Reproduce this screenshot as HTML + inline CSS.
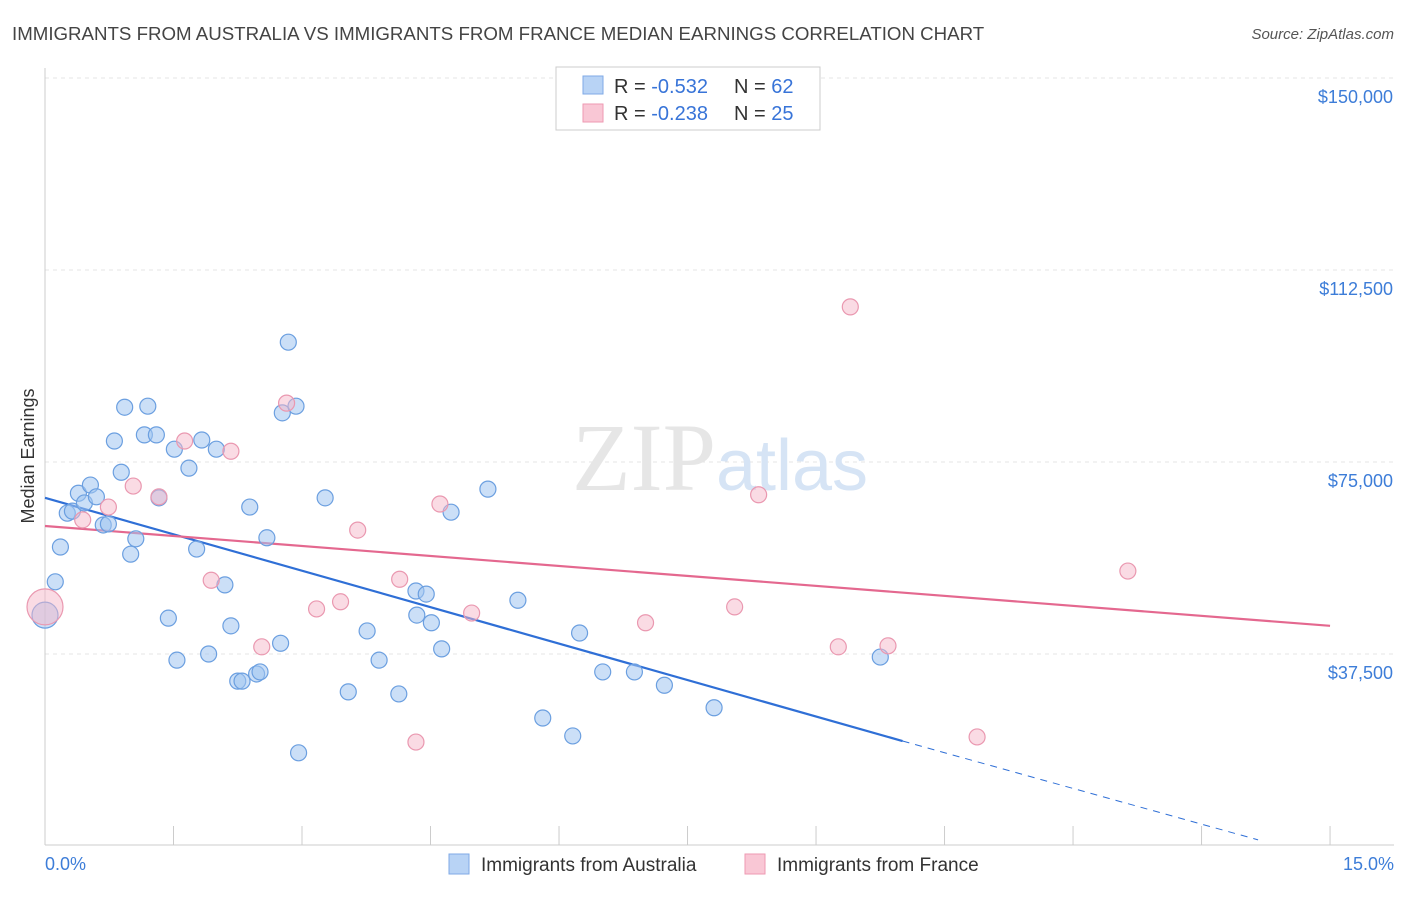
<!DOCTYPE html>
<html><head><meta charset="utf-8"><style>
body{margin:0;background:#fff;font-family:"Liberation Sans",sans-serif}
</style></head><body>
<svg id="chart" width="1406" height="892" xmlns="http://www.w3.org/2000/svg" font-family="Liberation Sans, sans-serif">
<text x="12" y="40" font-size="18.7" fill="#444">IMMIGRANTS FROM AUSTRALIA VS IMMIGRANTS FROM FRANCE MEDIAN EARNINGS CORRELATION CHART</text>
<text x="1394" y="39" font-size="15" fill="#555" text-anchor="end" font-style="italic">Source: ZipAtlas.com</text>
<g id="grid"></g>
<text x="720" y="490" font-size="96" text-anchor="middle" fill="#e6e6e6" font-family="Liberation Serif, serif">ZIP<tspan fill="#d6e4f5" font-family="Liberation Sans, sans-serif" font-size="72">atlas</tspan></text>
<text transform="translate(34,456) rotate(-90)" font-size="18" fill="#333" text-anchor="middle">Median Earnings</text>
<g id="lines"></g>
<g id="points"></g>
<g>
<rect x="556" y="67" width="264" height="63" fill="#fff" stroke="#ccc"/>
<rect x="583" y="76" width="20" height="18" fill="#b8d3f5" stroke="#7fa9e6"/>
<rect x="583" y="104" width="20" height="18" fill="#f9c7d5" stroke="#ee9ab2"/>
<text x="614" y="93" font-size="20" fill="#333">R = <tspan fill="#3874d8">-0.532</tspan></text>
<text x="734" y="93" font-size="20" fill="#333">N = <tspan fill="#3874d8">62</tspan></text>
<text x="614" y="120" font-size="20" fill="#333">R = <tspan fill="#3874d8">-0.238</tspan></text>
<text x="734" y="120" font-size="20" fill="#333">N = <tspan fill="#3874d8">25</tspan></text>
</g>
<text x="45" y="870" font-size="18" fill="#3d7dd8">0.0%</text>
<text x="1394" y="870" font-size="18" fill="#3d7dd8" text-anchor="end">15.0%</text>
<g>
<rect x="449" y="854" width="20" height="20" fill="#b8d3f5" stroke="#7fa9e6"/>
<text x="481" y="871" font-size="19" fill="#333">Immigrants from Australia</text>
<rect x="745" y="854" width="20" height="20" fill="#f9c7d5" stroke="#ee9ab2"/>
<text x="777" y="871" font-size="19" fill="#333">Immigrants from France</text>
</g>
</svg>
<script>
const yTicks=[37500,75000,112500,150000];
const yTickLabels=["$37,500","$75,000","$112,500","$150,000"];
const xTicks=[0,1.5,3,4.5,6,7.5,9,10.5,12,13.5,15];
const ausX=[0,.12,.18,.26,.32,.39,.46,.53,.60,.68,.74,.81,.89,.93,1.0,1.06,1.16,1.20,1.30,1.33,1.44,1.51,1.54,1.68,1.77,1.83,1.91,2.0,2.10,2.17,2.25,2.30,2.39,2.47,2.51,2.59,2.75,2.77,2.84,2.93,2.96,3.27,3.54,3.76,3.90,4.13,4.33,4.34,4.45,4.51,4.63,4.74,5.17,5.52,5.81,6.16,6.24,6.51,6.88,7.23,7.81,9.75];
const ausY=[45.1,51.6,58.4,65.0,65.4,68.9,67.0,70.5,68.2,62.7,62.9,79.1,73.0,85.7,57.0,60.0,80.3,85.9,80.3,68.0,44.5,77.5,36.3,73.8,58.0,79.3,37.5,77.5,51.0,43.0,32.2,32.2,66.2,33.6,34.0,60.2,39.6,84.6,98.4,85.9,18.2,68.0,30.1,42.0,36.3,29.7,49.8,45.1,49.2,43.6,38.5,65.2,69.7,48.0,25.0,21.5,41.6,34.0,34.0,31.4,27.0,36.9];
const frX=[0,.44,.74,1.03,1.33,1.63,1.94,2.17,2.53,2.82,3.17,3.45,3.65,4.14,4.33,4.61,4.98,7.01,8.05,8.33,9.26,9.40,9.84,10.88,12.64];
const frY=[46.7,63.7,66.2,70.3,68.2,79.1,51.9,77.1,38.9,86.5,46.3,47.7,61.7,52.1,20.3,66.8,45.5,43.6,46.7,68.6,38.9,105.3,39.1,21.3,53.7];
const ausTrend=[[0,68.0],[10.01,20.5]];
const ausTrendExt=[[10.01,20.5],[14.16,1.2]];
const frTrend=[[0,62.5],[15,43.0]];
const X=p=>45+p*85.67;
const Y=v=>846-v/37.5*192;
const NS="http://www.w3.org/2000/svg";
function mk(parent,tag,attrs){const e=document.createElementNS(NS,tag);for(const k in attrs)e.setAttribute(k,attrs[k]);document.getElementById(parent).appendChild(e);return e;}
yTicks.forEach((t,i)=>{
 const l=mk('grid','line',{x1:45,x2:1394,y1:Y(t/1000),y2:Y(t/1000),stroke:'#e4e4e4','stroke-dasharray':'4,4'});
 
 
 const tx=mk('grid','text',{x:1393,y:Y(t/1000)+25,'font-size':18,fill:'#3d7dd8','text-anchor':'end'});
 tx.textContent=yTickLabels[i];
 
 
});
const ax=mk('grid','line',{x1:45,x2:1394,y1:845,y2:845,stroke:'#ccc'});


const ay=mk('grid','line',{x1:45,x2:45,y1:68,y2:845,stroke:'#ccc'});


xTicks.forEach(t=>{
 const l=mk('grid','line',{x1:X(t),x2:X(t),y1:826,y2:845,stroke:'#ccc'});
 
 
});
function dot(px,v,fill,stroke,r,name){
 const c=mk('points','circle',{cx:X(px),cy:Y(v),r:r,fill:fill,stroke:stroke,'stroke-width':1.2});
 
 
}
ausX.forEach((p,i)=>dot(p,ausY[i],'rgba(160,196,240,0.55)','#6b9fe0',i===0?13:8,'australia-point'));
frX.forEach((p,i)=>dot(p,frY[i],'rgba(246,184,202,0.5)','#ea98b0',i===0?18:8,'france-point'));
function ln(pts,color,dash,name){
 const l=mk('lines','line',{x1:X(pts[0][0]),y1:Y(pts[0][1]),x2:X(pts[1][0]),y2:Y(pts[1][1]),stroke:color,'stroke-width':dash?1:2.2});
 if(dash)l.setAttribute('stroke-dasharray','7,6');
 
 
}
ln(ausTrend,'#2f6fd6',false,'australia-trendline');
ln(ausTrendExt,'#2f6fd6',true,'australia-trendline-extension');
ln(frTrend,'#e4688f',false,'france-trendline');
</script>
</body></html>
